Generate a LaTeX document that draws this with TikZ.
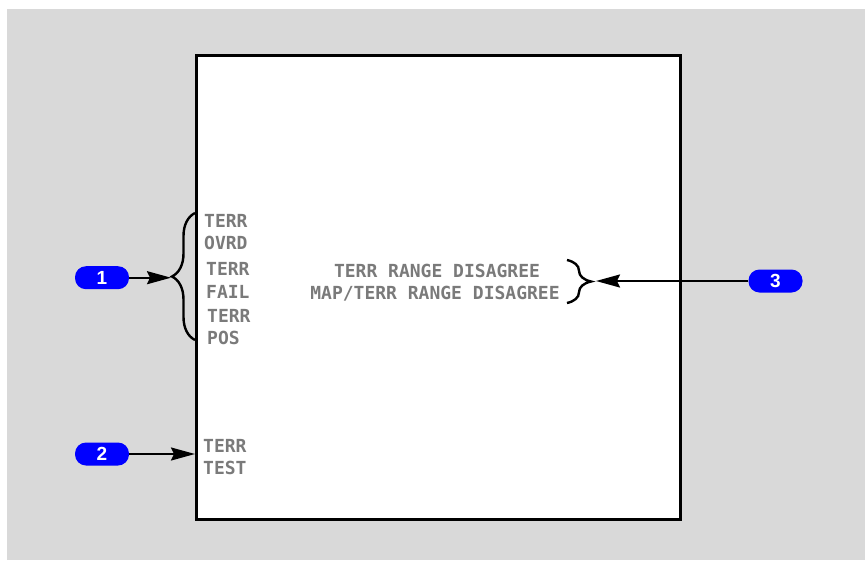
\documentclass[tikz,border=0pt]{standalone}
\usepackage{fontspec}
\setmainfont{Liberation Sans}
\newfontfamily\monofont{DejaVu Sans Mono}
\usetikzlibrary{arrows.meta,decorations.pathreplacing}
\definecolor{bggrey}{HTML}{D9D9D9}
\definecolor{txtgrey}{HTML}{7A7A7A}
\definecolor{pillblue}{HTML}{0000FF}

\begin{document}
\begin{tikzpicture}[x=1pt, y=-1pt,
    pill/.style={fill=pillblue, rounded corners=11pt, minimum width=54pt, minimum height=23pt,
        inner sep=0pt, text=white, font=\fontsize{19}{19}\selectfont\bfseries},
    lbl/.style={anchor=west, inner sep=0pt, text height=13pt, text depth=0pt, text=txtgrey,
        font=\monofont\fontsize{18}{18}\selectfont\bfseries},
    arr/.style={line width=2pt, -{Stealth[length=24pt, width=13pt, inset=3pt]}},
    brc/.style={decorate, decoration={brace, amplitude=#1}, line width=2.4pt}
]
    \useasboundingbox (0,0) rectangle (865,560);
    \fill[bggrey] (7,9) rectangle (865,560);

    % panel
    \node[draw, fill=white, line width=2.5pt, inner sep=0pt, minimum width=484pt,
        minimum height=464pt] (panel) at (438.25,287.5) {};

    % left labels
    \node[lbl] (ovrd1) at (204,220.5) {TERR};
    \node[lbl] (ovrd2) at (204,242.5) {OVRD};
    \node[lbl] (fail1) at (206,269) {TERR};
    \node[lbl] (fail2) at (206,291.5) {FAIL};
    \node[lbl] (pos1) at (207,315.5) {TERR};
    \node[lbl] (pos2) at (207,337.5) {POS};
    \node[lbl] (test1) at (203,446) {TERR};
    \node[lbl] (test2) at (203,467.5) {TEST};

    % right labels
    \node[lbl, anchor=center] (range1) at (437,270.5) {TERR RANGE DISAGREE};
    \node[lbl, anchor=center] (range2) at (435,292.5) {MAP/TERR RANGE DISAGREE};

    % braces
    \draw[brc=23pt] (195,340) -- (195,213);
    \coordinate (tipL) at (171,277.7);
    \draw[brc=24pt] (567,260) -- (567,303);
    \coordinate (tipR) at (596,281);

    % callouts
    \node[pill] (one) at (102,277.7) {1};
    \node[pill] (two) at (102,454) {2};
    \node[pill] (three) at (775.5,281) {3};

    \draw[arr] (one) -- (tipL);
    \draw[arr] (two) -- (two -| panel.west);
    \draw[arr] (three) -- (tipR);
\end{tikzpicture}
\end{document}
